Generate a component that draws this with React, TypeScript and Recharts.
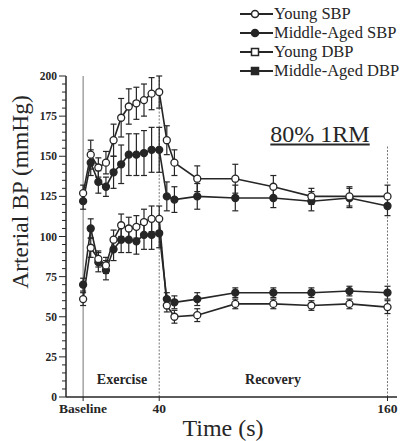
import React from 'react';
import { LineChart, Line, XAxis, YAxis, ErrorBar, ReferenceLine } from 'recharts';

const time = [0, 4, 8, 12, 16, 20, 24, 28, 32, 36, 40, 44, 48, 60, 80, 100, 120, 140, 160];
const youngSBP = [127, 151, 143, 146, 160, 174, 181, 183, 185, 189, 190, 160, 146, 136, 136, 131, 125, 125, 125];
const youngSBPErr = [5, 9, 6, 7, 10, 12, 11, 10, 10, 10, 10, 9, 8, 8, 9, 7, 5, 6, 7];
const middleSBP = [122, 146, 134, 131, 140, 145, 151, 151, 152, 154, 154, 125, 123, 125, 124, 124, 122, 124, 119];
const middleSBPErr = [5, 8, 7, 6, 10, 12, 13, 13, 14, 14, 14, 9, 8, 8, 8, 6, 6, 6, 6];
const youngDBP = [61, 93, 86, 82, 98, 107, 105, 106, 109, 111, 111, 57, 50, 51, 58, 58, 57, 58, 56];
const youngDBPErr = [4, 6, 5, 5, 6, 7, 7, 7, 8, 8, 8, 4, 4, 4, 3, 3, 3, 3, 4];
const middleDBP = [70, 105, 84, 79, 92, 98, 98, 97, 101, 101, 102, 61, 59, 61, 65, 65, 65, 66, 65];
const middleDBPErr = [4, 6, 6, 6, 7, 8, 8, 8, 9, 9, 9, 4, 4, 4, 3, 3, 3, 3, 4];

const xTicks = [0, 40, 160];
const xTickLabels: Record<number, string> = { 0: 'Baseline', 40: '40', 160: '160' };
const yTicks = Array.from({ length: 41 }, (_, i) => i * 5);

const seriesNames = ['Young SBP', 'Middle-Aged SBP', 'Young DBP', 'Middle-Aged DBP'];

const data = time.map((t, i) => ({
  t,
  ySBP: youngSBP[i],
  ySBPErr: youngSBPErr[i],
  mSBP: middleSBP[i],
  mSBPErr: middleSBPErr[i],
  yDBP: youngDBP[i],
  yDBPErr: youngDBPErr[i],
  mDBP: middleDBP[i],
  mDBPErr: middleDBPErr[i],
}));

const INK = '#262626';
const FONT = '"Liberation Serif", "Times New Roman", serif';

const YTick = (props: any) => {
  const { x, y, payload } = props;
  const v = payload.value as number;
  const major = v % 25 === 0;
  const axisX = x + 10;
  return (
    <g>
      <line x1={axisX} x2={axisX - (major ? 7 : 4)} y1={y} y2={y} stroke={INK} strokeWidth={1} />
      {major && (
        <text x={axisX - 9} y={y} dy="0.35em" textAnchor="end" fontSize={11.5} fontFamily={FONT} fill={INK} fontWeight={600}>
          {v}
        </text>
      )}
    </g>
  );
};

const LegendBlock = () => {
  const items = [
    { name: seriesNames[0], fill: '#fff', shape: 'circle' },
    { name: seriesNames[1], fill: INK, shape: 'circle' },
    { name: seriesNames[2], fill: '#fff', shape: 'square' },
    { name: seriesNames[3], fill: INK, shape: 'square' },
  ];
  return (
    <div style={{ position: 'absolute', left: 240, top: 4, fontFamily: FONT, fontSize: 16.5, color: INK, lineHeight: '19px' }}>
      {items.map((it) => (
        <div key={it.name} style={{ display: 'flex', alignItems: 'center', height: 19 }}>
          <svg width={33} height={12} style={{ marginRight: 1 }}>
            <line x1={0} x2={33} y1={6} y2={6} stroke={INK} strokeWidth={2} />
            {it.shape === 'circle' ? (
              <circle cx={15} cy={6} r={3.5} fill={it.fill} stroke={INK} strokeWidth={1.5} />
            ) : (
              <rect x={11.5} y={2.5} width={7} height={7} fill={it.fill} stroke={INK} strokeWidth={1.5} />
            )}
          </svg>
          <span>{it.name}</span>
        </div>
      ))}
    </div>
  );
};

const openDot = { r: 3.5, fill: '#fff', stroke: INK, strokeWidth: 1.3 };
const filledDot = { r: 3.5, fill: INK, stroke: INK, strokeWidth: 1.3 };

export default function App() {
  return (
    <div style={{ position: 'absolute', left: 0, top: 0, width: 404, height: 441, background: '#fff' }}>
      <LineChart width={404} height={441} data={data} margin={{ top: 76, right: 7, left: 26, bottom: 24 }}>
        <XAxis
          dataKey="t"
          type="number"
          domain={[-9, 165]}
          ticks={xTicks}
          tickFormatter={(v: number) => xTickLabels[v] ?? String(v)}
          height={20}
          tickSize={4}
          tickMargin={2}
          stroke={INK}
          tick={{ fontSize: 13.5, fontFamily: FONT, fill: INK, fontWeight: 600 }}
          axisLine={{ stroke: INK, strokeWidth: 1.5 }}
        />
        <YAxis
          type="number"
          domain={[0, 200]}
          ticks={yTicks}
          interval={0}
          width={40}
          tickLine={false}
          tickSize={8}
          tickMargin={2}
          tick={<YTick />}
          axisLine={{ stroke: INK, strokeWidth: 1.5 }}
        />
        <ReferenceLine x={0} stroke="#777" strokeWidth={1} />
        <ReferenceLine x={40} stroke="#777" strokeWidth={1} strokeDasharray="2 1.5" />
        <ReferenceLine
          segment={[{ x: 160, y: 0 }, { x: 160, y: 157 }]}
          stroke="#777"
          strokeWidth={1}
          strokeDasharray="2 1.5"
        />
        <Line name={seriesNames[1]} dataKey="mSBP" stroke={INK} strokeWidth={1.6} dot={filledDot} isAnimationActive={false}>
          <ErrorBar dataKey="mSBPErr" direction="y" width={3} stroke={INK} strokeWidth={1.2} />
        </Line>
        <Line name={seriesNames[0]} dataKey="ySBP" stroke={INK} strokeWidth={1.6} dot={openDot} isAnimationActive={false}>
          <ErrorBar dataKey="ySBPErr" direction="y" width={3} stroke={INK} strokeWidth={1.2} />
        </Line>
        <Line name={seriesNames[3]} dataKey="mDBP" stroke={INK} strokeWidth={1.6} dot={filledDot} isAnimationActive={false}>
          <ErrorBar dataKey="mDBPErr" direction="y" width={3} stroke={INK} strokeWidth={1.2} />
        </Line>
        <Line name={seriesNames[2]} dataKey="yDBP" stroke={INK} strokeWidth={1.6} dot={openDot} isAnimationActive={false}>
          <ErrorBar dataKey="yDBPErr" direction="y" width={3} stroke={INK} strokeWidth={1.2} />
        </Line>
      </LineChart>
      <LegendBlock />
      <div style={{ position: 'absolute', left: 20, top: 192, transform: 'translate(-50%, -50%) rotate(-90deg)', whiteSpace: 'nowrap', fontFamily: FONT, fontSize: 23.5, color: INK }}>
        Arterial BP (mmHg)
      </div>
      <div style={{ position: 'absolute', left: 223, top: 428, transform: 'translate(-50%, -50%)', whiteSpace: 'nowrap', fontFamily: FONT, fontSize: 24, color: INK }}>
        Time (s)
      </div>
      <div style={{ position: 'absolute', left: 320, top: 134, transform: 'translate(-50%, -50%)', whiteSpace: 'nowrap', fontFamily: FONT, fontSize: 24, color: INK, textDecoration: 'underline' }}>
        80% 1RM
      </div>
      <div style={{ position: 'absolute', left: 122, top: 380, transform: 'translate(-50%, -50%)', whiteSpace: 'nowrap', fontFamily: FONT, fontSize: 14, fontWeight: 600, color: INK }}>
        Exercise
      </div>
      <div style={{ position: 'absolute', left: 273, top: 380, transform: 'translate(-50%, -50%)', whiteSpace: 'nowrap', fontFamily: FONT, fontSize: 14, fontWeight: 600, color: INK }}>
        Recovery
      </div>
    </div>
  );
}
